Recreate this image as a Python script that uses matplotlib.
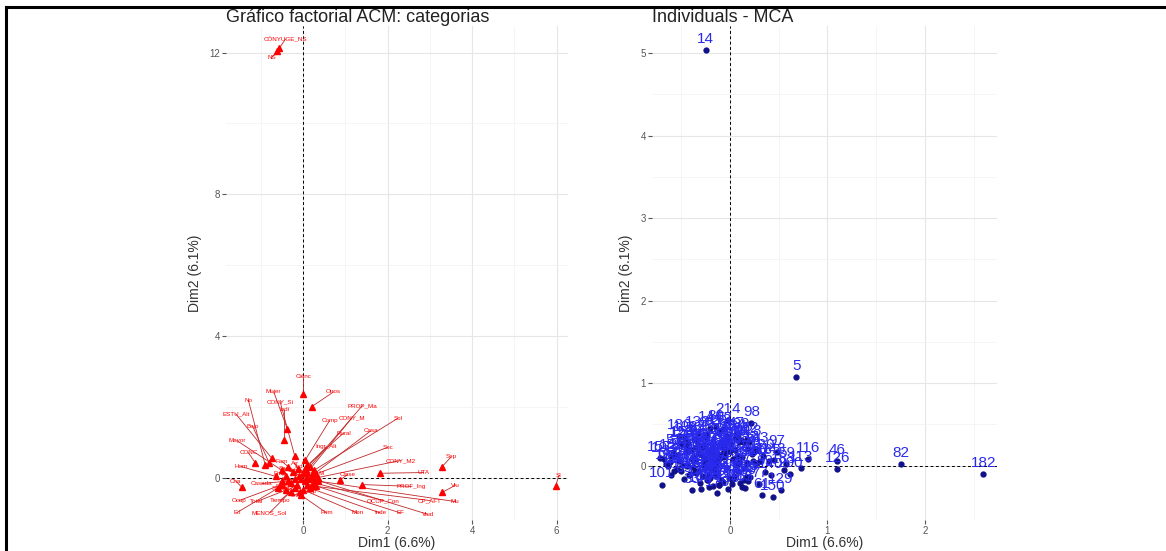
import matplotlib
matplotlib.use("Agg")
import matplotlib.pyplot as plt
from matplotlib.lines import Line2D

plt.rcParams['font.family'] = ['Liberation Sans', 'DejaVu Sans']

# ---- categorias (ACM) ----
cat_labels = ["CÓNYUGE_NS", "NS", "Sí", "Sep", "Viu", "UTA", "Ciênc", "Otros",
              "Mujer", "No", "CONY_Sí", "ESTU_Alt", "Indí", "Bajo", "PROP_Ma",
              "CONY_M", "Sol", "Comp", "Casa", "Rural", "Soc", "Ingr_Alt",
              "CONY_M2", "Clase", "PROF_Ing", "OCUP_Con", "CP_AFT", "Mu", "Mon",
              "Inde", "EF", "Viud", "Prim", "MENOS_Sol", "E.I", "Ocup", "Total",
              "Tiempo", "Cha", "Hom", "Casada", "CONC", "Mayor",
              "Urb", "Med", "Sec", "Alto", "Ing_M", "Emp", "Asal", "Pens", "Ind",
              "Cas", "SinE", "Prop", "Arr", "Fam", "Uni", "Tec"]
cat_x = [-0.57, -0.62, 5.98, 3.29, 3.29, 1.81, 0.0, 0.2,
         -0.38, -0.9, -0.2, -0.75, -0.45, -0.81, 0.15,
         0.1, 0.25, 0.05, 0.2, 0.1, 0.3, 0.05,
         0.35, 0.86, 1.4, 0.25, 0.3, 0.35, 0.0,
         0.15, 0.2, 0.25, -0.05, -0.3, -0.6, -0.5, -0.4,
         -0.2, -1.45, -0.64, -0.35, -1.14, -0.5,
         -0.1, 0.05, -0.25, -0.15, 0.1, -0.4, -0.05, -0.3, 0.0,
         -0.2, -0.5, 0.08, -0.12, -0.35, 0.15, -0.08]
cat_y = [12.12, 12.05, -0.23, 0.31, -0.42, 0.12, 2.37, 2.0,
         1.38, 0.35, 0.6, 0.55, 1.05, 0.42, 0.3,
         0.15, 0.2, 0.5, 0.05, 0.35, 0.1, 0.25,
         0.0, -0.08, -0.2, -0.15, -0.25, -0.1, -0.35,
         -0.3, -0.2, -0.05, -0.5, -0.4, -0.3, -0.2, -0.35,
         -0.3, -0.28, 0.03, -0.1, 0.42, 0.2,
         0.05, -0.1, 0.15, -0.2, 0.02, 0.05, -0.05, -0.15, 0.12,
         -0.05, -0.1, -0.2, 0.25, 0.3, -0.05, -0.4]
# label placement (repelled)
lab_x = [-0.42, -0.75, 6.05, 3.5, 3.6, 2.85, 0.0, 0.72,
         -0.7, -1.3, -0.55, -1.6, -0.45, -1.2, 1.4,
         1.15, 2.25, 0.62, 1.6, 0.95, 2.0, 0.55,
         2.3, 1.05, 2.55, 1.9, 3.0, 3.6, 1.28,
         1.82, 2.3, 2.95, 0.55, -0.8, -1.57, -1.52, -1.1,
         -0.55, -1.6, -1.48, -0.98, -1.3, -1.57,
         -0.25, 0.2, -0.45, -0.35, 0.3, -0.55, 0.1, -0.5, -0.1,
         -0.4, -0.6, 0.15, -0.2, -0.5, 0.35, -0.2]
lab_y = [12.38, 11.85, 0.05, 0.58, -0.22, 0.14, 2.85, 2.42,
         2.42, 2.18, 2.15, 1.8, 1.92, 1.45, 2.03,
         1.68, 1.68, 1.6, 1.32, 1.25, 0.85, 0.87,
         0.48, 0.08, -0.25, -0.65, -0.65, -0.68, -1.0,
         -1.0, -1.0, -1.04, -1.0, -1.0, -0.99, -0.65, -0.68,
         -0.65, -0.1, 0.31, -0.17, 0.7, 1.04,
         0.2, -0.25, 0.25, -0.35, 0.12, 0.12, 0.05, -0.25, 0.3,
         -0.05, -0.3, -0.4, 0.4, 0.45, -0.1, -0.5]

# ---- individuos (MCA) ----
ind_id = [14, 5, 82, 182, 46, 126, 116, 101, 180, 214, 98, 97, 129, 113, 183,
          150, 61, 33, 170, 77, 140, 59, 200,
          1, 2, 3, 4, 6, 7, 8, 9, 10, 11,
          12, 13, 15, 16, 17, 18, 19, 20, 21, 22,
          23, 24, 25, 26, 27, 28, 29, 30, 31, 32,
          34, 35, 36, 37, 38, 39, 40, 41, 42, 43,
          44, 45, 47, 48, 49, 50, 51, 52, 53, 54,
          55, 56, 57, 58, 60, 62, 63, 64, 65, 66,
          67, 68, 69, 70, 71, 72, 73, 74, 75, 76,
          78, 79, 80, 81, 83, 84, 85, 86, 87, 88,
          89, 90, 91, 92, 93, 94, 95, 96, 99, 100,
          102, 103, 104, 105, 106, 107, 108, 109, 110, 111,
          112, 114, 115, 117, 118, 119, 120, 121, 122, 123,
          124, 125, 127, 128, 130, 131, 132, 133, 134, 135,
          136, 137, 138, 139, 141, 142, 143, 144, 145, 146,
          147, 148, 149, 151, 152, 153, 154, 155, 156, 157]
ind_x = [-0.25, 0.68, 1.75, 2.6, 1.1, 1.1, 0.8, -0.7, -0.52, -0.02, 0.22, 0.48, 0.52, 0.73, 0.55,
         0.44, 0.33, -0.39, -0.13, 0.3, 0.42, 0.58, 0.62,
         -0.12, -0.05, -0.21, 0.03, -0.33, -0.18, 0.08, -0.27, -0.09, -0.41,
         0.12, -0.15, -0.02, -0.36, -0.24, 0.05, -0.48, -0.11, 0.17, -0.3,
         -0.07, -0.19, -0.55, 0.01, -0.14, -0.26, 0.21, -0.38, -0.04, -0.62,
         0.09, -0.17, -0.29, 0.14, -0.45, -0.1, -0.22, 0.26, -0.34, -0.01,
         -0.13, -0.5, 0.06, -0.2, -0.39, 0.18, -0.08, -0.28, -0.58, 0.11,
         -0.16, 0.02, -0.43, -0.25, 0.31, -0.06, -0.35, -0.12, 0.15, -0.66,
         -0.23, -0.03, -0.47, 0.07, -0.31, -0.18, 0.23, -0.52, -0.09, -0.37,
         0.04, -0.27, -0.14, -0.6, 0.19, -0.21, -0.44, 0.1, -0.32, -0.05,
         -0.17, 0.28, -0.4, -0.11, -0.53, 0.13, -0.24, -0.07, 0.36, -0.3,
         -0.2, -0.68, 0.0, -0.35, 0.16, -0.15, -0.46, 0.08, -0.26, 0.24,
         -0.1, -0.57, -0.19, 0.12, -0.42, -0.04, 0.34, -0.29, -0.13, -0.5,
         0.05, -0.23, -0.36, 0.2, -0.08, -0.64, 0.14, -0.33, -0.16, 0.4,
         -0.02, -0.45, -0.26, 0.09, -0.11, -0.54, 0.27, -0.2, -0.38, 0.03,
         -0.07, 0.45, -0.31, -0.6, 0.17, -0.14, -0.49, 0.06, -0.22, -0.72]
ind_y = [5.04, 1.07, 0.02, -0.1, 0.05, -0.04, 0.08, -0.23, 0.36, 0.55, 0.52, 0.16, -0.3, -0.03, -0.05,
         -0.38, -0.36, -0.3, -0.33, -0.22, -0.12, 0.02, -0.1,
         0.05, 0.12, -0.03, 0.08, 0.15, 0.21, -0.06, 0.02, 0.28, -0.1,
         0.1, -0.12, 0.33, 0.06, -0.17, 0.19, 0.01, 0.4, 0.03, 0.24,
         -0.2, 0.07, 0.11, 0.26, -0.08, 0.35, -0.14, -0.02, 0.16, 0.04,
         0.29, -0.25, 0.13, -0.03, 0.22, 0.09, -0.11, 0.18, 0.3, -0.15,
         0.14, -0.07, 0.38, 0.0, 0.08, -0.19, 0.23, -0.13, 0.17, 0.31,
         -0.04, -0.22, 0.27, 0.04, 0.05, 0.44, -0.09, 0.12, -0.27, 0.02,
         0.19, 0.36, -0.16, 0.11, 0.24, -0.05, 0.14, 0.06, -0.18, 0.32,
         -0.13, 0.09, 0.47, -0.11, 0.2, 0.15, -0.01, -0.21, -0.06, 0.25,
         0.07, 0.03, 0.19, -0.24, 0.13, 0.29, 0.38, 0.1, -0.08, -0.28,
         -0.15, 0.08, 0.18, 0.22, -0.14, 0.01, 0.33, 0.37, -0.02, 0.06,
         0.42, -0.06, 0.16, -0.26, -0.12, 0.3, 0.12, 0.21, -0.09, 0.26,
         0.34, -0.18, -0.07, 0.28, 0.11, -0.01, -0.17, 0.39, 0.09, 0.05,
         -0.29, 0.17, 0.25, 0.04, -0.23, -0.04, 0.2, 0.46, 0.1, -0.16,
         0.15, 0.07, -0.21, 0.12, 0.32, -0.1, 0.27, 0.02, -0.26, 0.09]

W, H = 1166, 551
fig = plt.figure(figsize=(W / 100, H / 100), dpi=100)
ax1 = fig.add_axes([226 / W, 1 - 520 / H, (568 - 226) / W, 494 / H])
ax2 = fig.add_axes([652 / W, 1 - 520 / H, (997 - 652) / W, 494 / H])


def style(ax, xt, yt, xminor, yminor):
    for s in ax.spines.values():
        s.set_visible(False)
    ax.set_xticks(xt)
    ax.set_yticks(yt)
    ax.set_xticks(xminor, minor=True)
    ax.set_yticks(yminor, minor=True)
    ax.grid(True, which='major', color='#e6e6e6', lw=0.8)
    ax.grid(True, which='minor', color='#f2f2f2', lw=0.5)
    ax.tick_params(which='major', length=3, color='#555555', labelsize=7,
                   labelcolor='#555555', pad=1.5)
    ax.tick_params(which='minor', length=0)
    ax.set_axisbelow(True)
    ax.axhline(0, color='black', lw=0.7, ls=(0, (3, 2.5)), zorder=1)
    ax.axvline(0, color='black', lw=0.7, ls=(0, (3, 2.5)), zorder=1)
    ax.set_xlabel("Dim1 (6.6%)", fontsize=10, color='#333333', labelpad=0)
    ax.set_ylabel("Dim2 (6.1%)", fontsize=10, color='#333333', labelpad=5)


# left: categories
style(ax1, [0, 2, 4, 6], [0, 4, 8, 12], [-1, 1, 3, 5], [2, 6, 10])
ax1.set_xlim(-1.83, 6.27)
ax1.set_ylim(-1.2, 12.75)
for i in range(len(cat_labels)):
    ax1.plot([cat_x[i], lab_x[i]], [cat_y[i], lab_y[i]], color='#c0282a',
             lw=0.6, zorder=2)
ax1.plot(cat_x, cat_y, '^', color='red', ms=4, ls='none', zorder=3)
for i in range(len(cat_labels)):
    ax1.text(lab_x[i], lab_y[i], cat_labels[i], color='red', fontsize=4.5,
             ha='center', va='center', zorder=4)
ax1.set_title("Gráfico factorial ACM: categorias", loc='left', fontsize=13,
              color='#222222', pad=1)

# right: individuals
style(ax2, [0, 1, 2], [0, 1, 2, 3, 4, 5], [-0.5, 0.5, 1.5, 2.5],
      [0.5, 1.5, 2.5, 3.5, 4.5])
ax2.set_xlim(-0.8, 2.74)
ax2.set_ylim(-0.66, 5.33)
ax2.plot(ind_x, ind_y, 'o', color='#10108a', ms=3.5, ls='none', zorder=3)
for i in range(len(ind_id)):
    ax2.annotate(str(ind_id[i]), (ind_x[i], ind_y[i]), xytext=(0, 8),
                 textcoords='offset points', color='#2a2aee', fontsize=11,
                 ha='center', va='center', zorder=4)
ax2.set_title("Individuals - MCA", loc='left', fontsize=13, color='#222222',
              pad=1)

# black frame lines (top and left)
fig.add_artist(Line2D([5.5 / W, 1], [1 - 6.5 / H, 1 - 6.5 / H], color='black',
                      lw=2.2, transform=fig.transFigure))
fig.add_artist(Line2D([5.5 / W, 5.5 / W], [0, 1 - 6.5 / H], color='black',
                      lw=2.2, transform=fig.transFigure))

fig.savefig("out.png", dpi=100)
